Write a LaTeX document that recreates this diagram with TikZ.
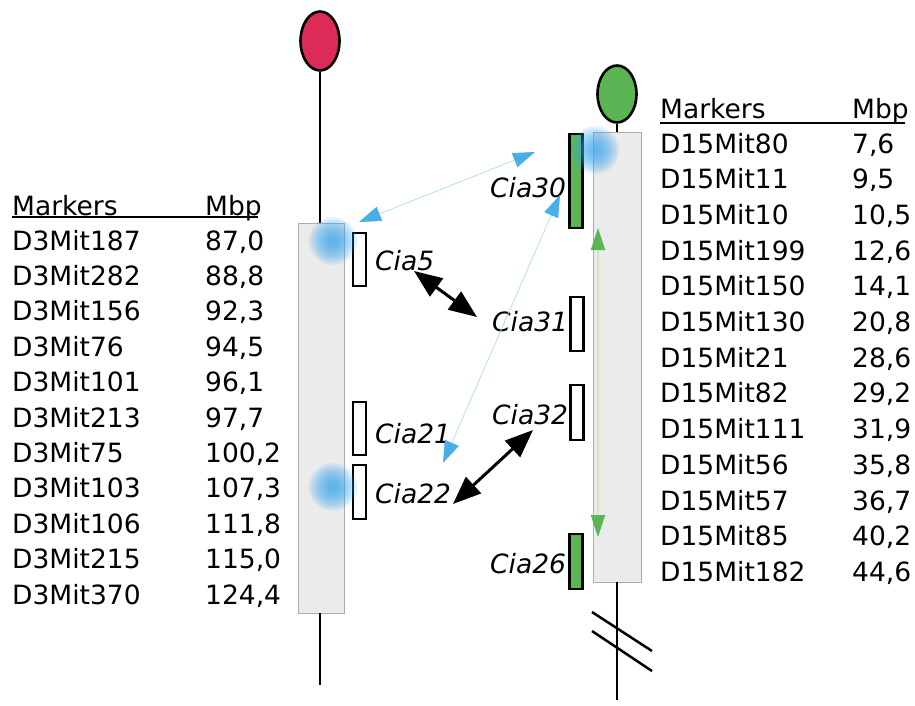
\documentclass[tikz,border=0pt]{standalone}
\usepackage{fontspec}
\setmainfont{DejaVu Sans}
\usetikzlibrary{arrows.meta,shapes.geometric}
\definecolor{chrred}{HTML}{DC2B57}
\definecolor{chrgreen}{HTML}{5BB554}
\definecolor{boxgray}{HTML}{EBEBEB}
\definecolor{boxedge}{HTML}{ADADAD}
\definecolor{glowblue}{HTML}{3AA8EE}
\definecolor{tipblue}{HTML}{4AAEE6}
\definecolor{lineblue}{HTML}{B3DDF2}
\definecolor{linegreen}{HTML}{CFE8CA}
\begin{document}
\begin{tikzpicture}[x=1pt,y=-1pt,
  txt/.style={font=\fontsize{26.5}{30}\selectfont, inner sep=0pt, anchor=base west},
  cia/.style={font=\fontsize{26.5}{30}\selectfont\itshape, inner sep=0pt, anchor=base west},
  chrbox/.style={draw=boxedge, fill=boxgray, line width=0.8pt, inner sep=0pt},
  qtl/.style={draw=black, line width=2.2pt, fill=white, minimum width=13pt, inner sep=0pt},
  qtlg/.style={qtl, fill=chrgreen},
  cent/.style={ellipse, draw=black, line width=2.6pt, inner sep=0pt, minimum width=39pt},
  chrline/.style={line width=2.5pt},
  bluearr/.style={draw=lineblue, line width=0.8pt, {Triangle[length=22pt,width=15pt,color=tipblue]}-{Triangle[length=22pt,width=15pt,color=tipblue]}},
  greenarr/.style={draw=linegreen, line width=2pt, {Triangle[length=22pt,width=14pt,color=chrgreen]}-{Triangle[length=22pt,width=14pt,color=chrgreen]}},
  blackarr/.style={line width=3pt, {Triangle[length=28pt,width=22pt]}-{Triangle[length=28pt,width=22pt]}},
  uline/.style={line width=1.2pt}
]
\useasboundingbox (0,0) rectangle (915,705);

% ---------- left chromosome ----------
\node[cent, fill=chrred, minimum height=59pt] (lcen) at (320,41) {};
\node[chrbox, minimum width=46pt, minimum height=390pt] (lbox) at (321,418) {};
\coordinate (lend) at (320,685);
\draw[chrline] (lcen.south) -- (lcen.south |- lbox.north);
\draw[chrline] (lend |- lbox.south) -- (lend);

\node[qtl, minimum height=53pt] (cia5) at (359.5,259.5) {};
\node[qtl, minimum height=53pt] (cia21) at (359.5,428.5) {};
\node[qtl, minimum height=54pt] (cia22) at (359.5,492) {};
\node[cia] (l5) at (375,270) {Cia5};
\node[cia] (l21) at (375,443) {Cia21};
\node[cia] (l22) at (375,503) {Cia22};

% ---------- right chromosome ----------
\node[cent, fill=chrgreen, minimum height=57pt] (rcen) at (617,94) {};
\node[chrbox, minimum width=48pt, minimum height=450pt] (rbox) at (617,357) {};
\coordinate (rend) at (617,700);
\draw[chrline] (rcen.south) -- (rbox.north);
\draw[chrline] (rbox.south) -- (rend);
\coordinate (b1a) at (592,612); \coordinate (b1b) at (652,651);
\coordinate (b2a) at (592,631); \coordinate (b2b) at (652,671);
\draw[chrline] (b1a) -- (b1b);
\draw[chrline] (b2a) -- (b2b);

\node[qtlg, minimum height=94pt] (cia30) at (576,181) {};
\node[qtl, minimum height=54pt] (cia31) at (577,324) {};
\node[qtl, minimum height=55pt] (cia32) at (577,412.5) {};
\node[qtlg, minimum height=55pt] (cia26) at (576,561.5) {};
\node[cia] (l30) at (490,197) {Cia30};
\node[cia] (l31) at (492,331) {Cia31};
\node[cia] (l32) at (492,424) {Cia32};
\node[cia] (l26) at (490,573) {Cia26};

% ---------- connectors ----------
\coordinate (g1) at (598,228); \coordinate (g2) at (598,537);
\draw[greenarr] (g1) -- (g2);

\coordinate (a1) at (414,271); \coordinate (a2) at (477,317);
\draw[blackarr] (a1) -- (a2);
\coordinate (c1) at (453,504); \coordinate (c2) at (533,430);
\draw[blackarr] (c1) -- (c2);

\coordinate (p1) at (359,222); \coordinate (p2) at (535,152);
\draw[bluearr] (p1) -- (p2);
\coordinate (q1) at (560,195); \coordinate (q2) at (443,463);
\draw[bluearr] (q1) -- (q2);

% ---------- glows ----------
\foreach \gx/\gy in {333/241, 333/487, 595/150}{
  \foreach \r in {24,22,...,4}{
    \fill[glowblue, opacity=0.12] (\gx,\gy) circle (\r pt);
  }
}

% ---------- left table ----------
\node[txt] (lhm) at (12,215) {Markers};
\node[txt] (lhv) at (205,215) {Mbp};
\coordinate (lu1) at (12,217); \coordinate (lu2) at (258,217);
\draw[uline] (lu1) -- (lu2);
\foreach \m/\v [count=\i from 0] in {D3Mit187/{87,0}, D3Mit282/{88,8}, D3Mit156/{92,3}, D3Mit76/{94,5}, D3Mit101/{96,1}, D3Mit213/{97,7}, D3Mit75/{100,2}, D3Mit103/{107,3}, D3Mit106/{111,8}, D3Mit215/{115,0}, D3Mit370/{124,4}}{
  \node[txt] (lm\i) at (12,250+35.4*\i) {\m};
  \node[txt] (lv\i) at (205,250+35.4*\i) {\v};
}

% ---------- right table ----------
\node[txt] (rhm) at (660,118) {Markers};
\node[txt] (rhv) at (852,118) {Mbp};
\coordinate (ru1) at (660,123); \coordinate (ru2) at (905,123);
\draw[uline] (ru1) -- (ru2);
\foreach \m/\v [count=\i from 0] in {D15Mit80/{7,6}, D15Mit11/{9,5}, D15Mit10/{10,5}, D15Mit199/{12,6}, D15Mit150/{14,1}, D15Mit130/{20,8}, D15Mit21/{28,6}, D15Mit82/{29,2}, D15Mit111/{31,9}, D15Mit56/{35,8}, D15Mit57/{36,7}, D15Mit85/{40,2}, D15Mit182/{44,6}}{
  \node[txt] (rm\i) at (660,153+35.7*\i) {\m};
  \node[txt] (rv\i) at (852,153+35.7*\i) {\v};
}
\end{tikzpicture}
\end{document}
